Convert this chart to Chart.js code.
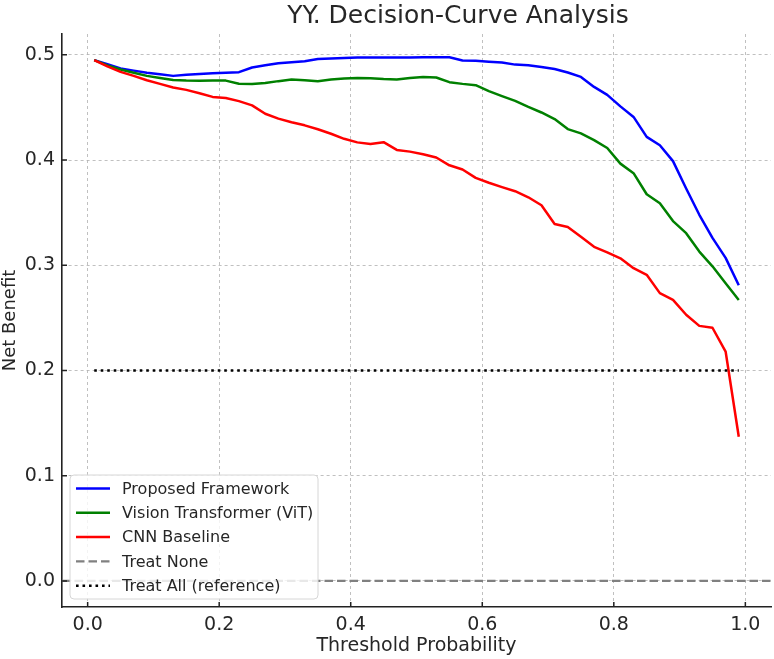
<!DOCTYPE html>
<html>
<head>
<meta charset="utf-8">
<script src="https://cdn.jsdelivr.net/npm/chart.js@4.4.1/dist/chart.umd.min.js"></script>
<style>
  html, body { margin: 0; padding: 0; background: #fff; }
  canvas { display: block; }
</style>
</head>
<body>
<canvas id="dca" width="774" height="659"></canvas>
<script>
// threshold probabilities (x)
const thresholds = [
  0.01, 0.03, 0.05, 0.07, 0.09, 0.11, 0.13, 0.15, 0.17, 0.19,
  0.21, 0.23, 0.25, 0.27, 0.29, 0.31, 0.33, 0.35, 0.37, 0.39,
  0.41, 0.43, 0.45, 0.47, 0.49, 0.51, 0.53, 0.55, 0.57, 0.59,
  0.61, 0.63, 0.65, 0.67, 0.69, 0.71, 0.73, 0.75, 0.77, 0.79,
  0.81, 0.83, 0.85, 0.87, 0.89, 0.91, 0.93, 0.95, 0.97, 0.99
];

// net benefit
const proposedNB = [
  0.495, 0.491, 0.487, 0.485, 0.483, 0.4815, 0.480, 0.481, 0.4817, 0.4825,
  0.483, 0.4835, 0.488, 0.490, 0.492, 0.493, 0.494, 0.496, 0.4965, 0.497,
  0.4975, 0.4975, 0.4975, 0.4975, 0.4975, 0.4978, 0.4978, 0.4977, 0.4946, 0.4944,
  0.4935, 0.4927, 0.4907, 0.4901, 0.4885, 0.4865, 0.4832, 0.479, 0.4695, 0.462,
  0.451, 0.441, 0.422, 0.414, 0.399, 0.373, 0.348, 0.326, 0.307, 0.281
];
const vitNB = [
  0.495, 0.490, 0.486, 0.483, 0.480, 0.478, 0.476, 0.4755, 0.4753, 0.4755,
  0.4755, 0.4726, 0.4722, 0.4732, 0.475, 0.4765, 0.4758, 0.475, 0.4765, 0.4775,
  0.478, 0.4778, 0.477, 0.4765, 0.478, 0.479, 0.4785, 0.474, 0.4724, 0.4712,
  0.4655, 0.4607, 0.4562, 0.4505, 0.4452, 0.439, 0.4294, 0.4253, 0.419, 0.4115,
  0.3966, 0.3875, 0.3675, 0.359, 0.342, 0.3305, 0.313, 0.299, 0.283, 0.267
];
const cnnNB = [
  0.495, 0.489, 0.4838, 0.480, 0.4758, 0.4724, 0.469, 0.4667, 0.4635, 0.460,
  0.459, 0.456, 0.452, 0.444, 0.4394, 0.436, 0.433, 0.4293, 0.425, 0.4202,
  0.4168, 0.4152, 0.417, 0.4096, 0.408, 0.4055, 0.4024, 0.395, 0.391, 0.3831,
  0.3784, 0.3743, 0.3704, 0.3646, 0.357, 0.3392, 0.3363, 0.327, 0.3175, 0.3123,
  0.3066, 0.2972, 0.2909, 0.2735, 0.2671, 0.253, 0.2424, 0.2406, 0.218, 0.137
];
const treatAllNB = 0.2;
const treatNoneNB = 0.0;

const xTicks = [0.0, 0.2, 0.4, 0.6, 0.8, 1.0];
const yTicks = [0.0, 0.1, 0.2, 0.3, 0.4, 0.5];
const xLimits = [-0.039, 1.039];
const yLimits = [-0.0248, 0.5198];

const seriesNames = ['Proposed Framework', 'Vision Transformer (ViT)', 'CNN Baseline', 'Treat None', 'Treat All (reference)'];
const chartTitle = 'YY. Decision-Curve Analysis';

const FONT = "'DejaVu Sans', 'Liberation Sans', sans-serif";
const TEXT = '#262626';

const pts = (ys) => thresholds.map((x, i) => ({ x: x, y: ys[i] }));

// title sits a bit right of the axes centre in the source image
const titleText = {
  id: 'titleText',
  afterDraw(chart) {
    const ctx = chart.ctx;
    ctx.save();
    ctx.font = '25px ' + FONT;
    ctx.fillStyle = TEXT;
    ctx.textAlign = 'center';
    ctx.textBaseline = 'alphabetic';
    ctx.fillText(chartTitle, 458, 23);
    ctx.restore();
  }
};

// matplotlib style: ticks pointing inside the axes
const innerTicks = {
  id: 'innerTicks',
  afterDraw(chart) {
    const { ctx, chartArea, scales } = chart;
    ctx.save();
    ctx.strokeStyle = '#222';
    ctx.lineWidth = 1.5;
    ctx.beginPath();
    xTicks.forEach(v => {
      const px = scales.x.getPixelForValue(v);
      ctx.moveTo(px, chartArea.bottom);
      ctx.lineTo(px, chartArea.bottom - 5);
    });
    yTicks.forEach(v => {
      const py = scales.y.getPixelForValue(v);
      ctx.moveTo(chartArea.left, py);
      ctx.lineTo(chartArea.left + 5, py);
    });
    ctx.stroke();
    ctx.restore();
  }
};

// legend box in the lower-left corner of the axes
const boxLegend = {
  id: 'boxLegend',
  afterDatasetsDraw(chart) {
    const { ctx, chartArea } = chart;
    const sets = chart.data.datasets;
    const x0 = chartArea.left + 8, w = 248, h = 124;
    const y0 = chartArea.bottom - 8 - h;
    ctx.save();
    ctx.beginPath();
    ctx.roundRect(x0, y0, w, h, 4);
    ctx.fillStyle = 'rgba(255,255,255,0.82)';
    ctx.fill();
    ctx.strokeStyle = '#d6d6d6';
    ctx.lineWidth = 1;
    ctx.stroke();
    ctx.font = '16px ' + FONT;
    ctx.textBaseline = 'middle';
    sets.forEach((ds, i) => {
      const cy = y0 + 13.5 + i * 24.3;
      ctx.beginPath();
      ctx.setLineDash(ds.borderDash || []);
      ctx.strokeStyle = ds.borderColor;
      ctx.lineWidth = ds.borderWidth;
      ctx.moveTo(x0 + 6, cy);
      ctx.lineTo(x0 + 40, cy);
      ctx.stroke();
      ctx.setLineDash([]);
      ctx.fillStyle = TEXT;
      ctx.fillText(ds.label, x0 + 52, cy + 1);
    });
    ctx.restore();
  }
};

new Chart(document.getElementById('dca'), {
  type: 'line',
  data: {
    datasets: [
      { label: seriesNames[0], data: pts(proposedNB), borderColor: '#0000ff', borderWidth: 2.5, order: 4 },
      { label: seriesNames[1], data: pts(vitNB), borderColor: '#008000', borderWidth: 2.5, order: 3 },
      { label: seriesNames[2], data: pts(cnnNB), borderColor: '#ff0000', borderWidth: 2.5, order: 2 },
      {
        label: seriesNames[3],
        data: [{ x: xLimits[0], y: treatNoneNB }, { x: xLimits[1], y: treatNoneNB }],
        borderColor: '#808080', borderWidth: 2.2, borderDash: [8.5, 4], order: 1
      },
      {
        label: seriesNames[4],
        data: [{ x: thresholds[0], y: treatAllNB }, { x: thresholds[thresholds.length - 1], y: treatAllNB }],
        borderColor: '#000000', borderWidth: 2.6, borderDash: [2.6, 3.9], order: 0
      }
    ]
  },
  options: {
    responsive: false,
    animation: false,
    elements: {
      point: { radius: 0 },
      line: { tension: 0, fill: false, borderCapStyle: 'butt', borderJoinStyle: 'round' }
    },
    layout: { padding: { left: 0, right: 3, top: 34, bottom: 0 } },
    plugins: {
      legend: { display: false },
      tooltip: { enabled: false },
      title: { display: false }
    },
    scales: {
      x: {
        type: 'linear',
        min: xLimits[0],
        max: xLimits[1],
        afterBuildTicks: (s) => { s.ticks = xTicks.map(v => ({ value: v })); },
        afterFit: (s) => { s.height = 52; },
        border: { display: true, color: '#222', width: 1.6, dash: [3, 3] },
        grid: { color: 'rgba(176,176,176,0.8)', lineWidth: 1, drawTicks: false },
        ticks: {
          color: TEXT, padding: 7,
          font: { family: FONT, size: 19 },
          callback: (v) => Number(v).toFixed(1)
        },
        title: {
          display: true, text: 'Threshold Probability', color: TEXT,
          font: { family: FONT, size: 19 }, padding: { top: 0, bottom: 2 }
        }
      },
      y: {
        type: 'linear',
        min: yLimits[0],
        max: yLimits[1],
        afterBuildTicks: (s) => { s.ticks = yTicks.map(v => ({ value: v })); },
        afterFit: (s) => { s.width = 62; },
        border: { display: true, color: '#222', width: 1.6, dash: [3, 3] },
        grid: { color: 'rgba(176,176,176,0.8)', lineWidth: 1, drawTicks: false },
        ticks: {
          color: TEXT, padding: 7,
          font: { family: FONT, size: 19 },
          callback: (v) => Number(v).toFixed(1)
        },
        title: {
          display: true, text: 'Net Benefit', color: TEXT,
          font: { family: FONT, size: 18 }, padding: { top: 0, bottom: 0 }
        }
      }
    }
  },
  plugins: [innerTicks, boxLegend, titleText]
});
</script>
</body>
</html>
